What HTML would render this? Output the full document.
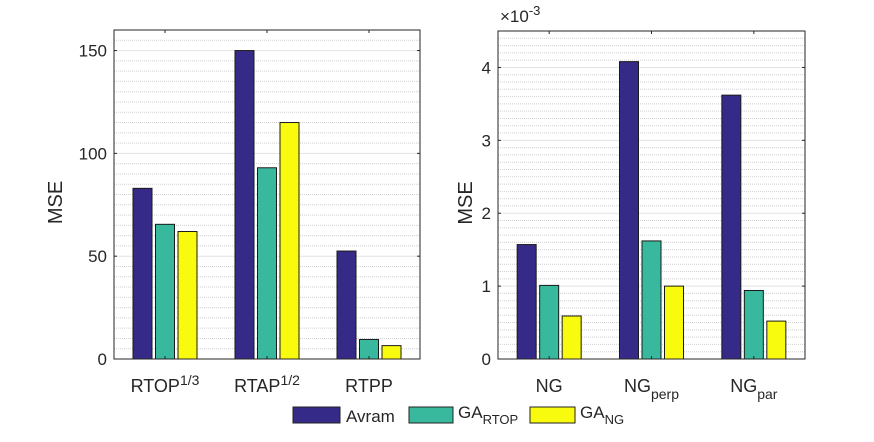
<!DOCTYPE html>
<html><head><meta charset="utf-8"><style>
body{margin:0;background:#fff;}
svg text{font-family:"Liberation Sans",sans-serif;fill:#262626;}
</style></head><body>
<svg id="chart" width="874" height="437" viewBox="0 0 874 437" xmlns="http://www.w3.org/2000/svg">
<rect width="874" height="437" fill="#fff"/>
<g id="left"></g>
<g id="right"></g>
<g id="legend">
  <rect x="293" y="407" width="47" height="16" fill="#352a87" stroke="#222" stroke-width="1"/>
  <text x="346" y="422" font-size="17">Avram</text>
  <rect x="409" y="407" width="44" height="16" fill="#38b99e" stroke="#222" stroke-width="1"/>
  <text x="458" y="418" font-size="17">GA<tspan font-size="13" dy="6">RTOP</tspan></text>
  <rect x="530" y="407" width="45" height="16" fill="#f9fb0e" stroke="#222" stroke-width="1"/>
  <text x="580" y="418" font-size="17">GA<tspan font-size="13" dy="6">NG</tspan></text>
</g>
</svg>
<script>
const seriesNames = ["Avram","GA_RTOP","GA_NG"];
const seriesColors = ["#352a87","#38b99e","#f9fb0e"];
const leftCategories = ["RTOP","RTAP","RTPP"];
const leftAvram = [83, 150, 52.5];
const leftGaRtop = [65.5, 93, 9.5];
const leftGaNg = [62, 115, 6.5];
const leftTicks = [0, 50, 100, 150];
const rightCategories = ["NG","NG_perp","NG_par"];
const rightAvram = [1.57, 4.08, 3.62];
const rightGaRtop = [1.01, 1.62, 0.94];
const rightGaNg = [0.59, 1.00, 0.52];
const rightTicks = [0, 1, 2, 3, 4];

const NS = "http://www.w3.org/2000/svg";
function mk(tag, attrs, parent){
  const e = document.createElementNS(NS, tag);
  for (const k in attrs) e.setAttribute(k, attrs[k]);
  parent.appendChild(e);
  return e;
}
function drawAxes(g, cfg){
  const {x0,x1,y0,y1,ymax,minor,ticks,series,labels} = cfg;
  const ys = v => y0 - (v/ymax)*(y0-y1);
  const n = series[0].length;
  const gw = (x1-x0)/n;
  const xc = i => x0 + gw*(i+0.5);
  mk("rect",{x:x0,y:y1,width:x1-x0,height:y0-y1,fill:"#fff"},g);
  for (let v=minor; v<ymax-1e-9; v+=minor){
    const y = ys(v);
    const isMajor = ticks.some(t=>Math.abs(t-v)<1e-6);
    if (isMajor) continue;
    const l = mk("line",{x1:x0,x2:x1,y1:y,y2:y,stroke:"#d0d0d0","stroke-width":1,"stroke-dasharray":"1,1"},g);
    
    
  }
  ticks.forEach(t=>{
    const y = ys(t);
    if (t>0){
      const l = mk("line",{x1:x0,x2:x1,y1:y,y2:y,stroke:"#e3e3e3","stroke-width":1},g);
      
      
    }
    mk("line",{x1:x0,x2:x0+3,y1:y,y2:y,stroke:"#262626"},g);
    mk("line",{x1:x1,x2:x1-3,y1:y,y2:y,stroke:"#262626"},g);
    const tx = mk("text",{x:x0-7,y:y+6,"font-size":17,"text-anchor":"end"},g);
    tx.textContent = String(t);
    
    
  });
  const bw = 19, sp = 22.5;
  series.forEach((vals,s)=>{
    vals.forEach((v,i)=>{
      const cx = xc(i) + (s-1)*sp;
      const r = mk("rect",{x:cx-bw/2,y:ys(v),width:bw,height:y0-ys(v),fill:seriesColors[s],stroke:"#1a1a1a","stroke-width":1},g);
      
      
    });
  });
  for (let i=0;i<n;i++){
    mk("line",{x1:xc(i),x2:xc(i),y1:y1,y2:y1+3,stroke:"#262626"},g);
    mk("line",{x1:xc(i),x2:xc(i),y1:y0,y2:y0-3,stroke:"#262626"},g);
  }
  mk("rect",{x:x0,y:y1,width:x1-x0,height:y0-y1,fill:"none",stroke:"#262626","stroke-width":1},g);
  labels.forEach((html,i)=>{
    const t = mk("text",{x:xc(i),y:y0+33,"font-size":18,"text-anchor":"middle"},g);
    t.innerHTML = html;
    
    
  });
  const yl = mk("text",{x:0,y:0,"font-size":20,"text-anchor":"middle",transform:`translate(${cfg.ylx},${(y0+y1)/2+8}) rotate(-90)`},g);
  yl.textContent = "MSE";
  
  
}
drawAxes(document.getElementById('left'),{
  x0:114,x1:420,y0:359,y1:30,ymax:160,minor:5,ticks:leftTicks,ylx:62,
  series:[leftAvram,leftGaRtop,leftGaNg],
  labels:['RTOP<tspan font-size="14" dy="-7">1/3</tspan>','RTAP<tspan font-size="14" dy="-7">1/2</tspan>','RTPP']
});
drawAxes(document.getElementById('right'),{
  x0:498,x1:805,y0:359,y1:31,ymax:4.5,minor:0.1,ticks:rightTicks,ylx:472,
  series:[rightAvram,rightGaRtop,rightGaNg],
  labels:['NG','NG<tspan font-size="14" dy="7">perp</tspan>','NG<tspan font-size="14" dy="7">par</tspan>']
});
const ex = mk("text",{x:500,y:22,"font-size":17},document.getElementById('right'));
ex.innerHTML = '×10<tspan font-size="13" dy="-7">-3</tspan>';


</script>
</body></html>
